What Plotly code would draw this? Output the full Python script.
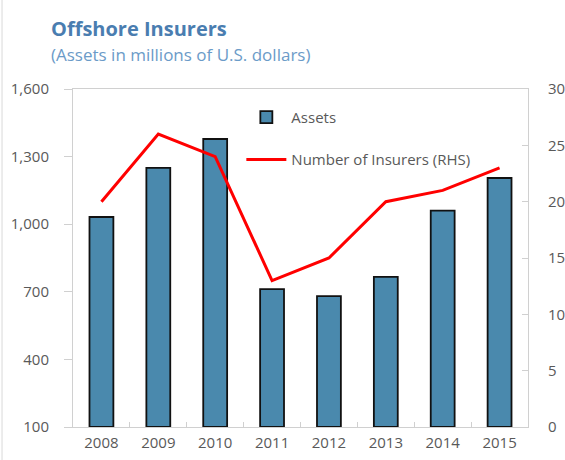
import plotly.graph_objects as go

years = ["2008", "2009", "2010", "2011", "2012", "2013", "2014", "2015"]
assets = [1032, 1250, 1378, 712, 681, 766, 1060, 1205]
insurers = [20, 26, 24, 13, 15, 20, 21, 23]

FONT = "Open Sans"
GRAY = "#595959"
AX = "#d0d0d0"

fig = go.Figure()
fig.add_trace(go.Bar(
    x=years, y=[a - 100 for a in assets], base=100, name="Assets",
    marker=dict(color="#4a89ad", line=dict(color="#111111", width=1.8)),
    legendgroup="a", hoverinfo="skip",
))
fig.add_trace(go.Scatter(
    x=years, y=insurers, name="Number of Insurers (RHS)", yaxis="y2",
    mode="lines", line=dict(color="#ff0000", width=3),
    legendgroup="b",
))

fig.update_layout(
    width=565, height=460,
    margin=dict(l=73, r=37, t=89, b=33),
    plot_bgcolor="white", paper_bgcolor="white",
    font=dict(family=FONT, size=15, color=GRAY),
    bargap=0.58,
    showlegend=True,
    legend=dict(x=0.37, y=0.965, xanchor="left", yanchor="top",
                bgcolor="rgba(0,0,0,0)", tracegroupgap=20,
                font=dict(size=15, color=GRAY), itemwidth=40),
    xaxis=dict(showline=True, linecolor=AX, linewidth=1, mirror=True,
               ticks="inside", tickson="boundaries", ticklen=5, tickcolor=AX,
               tickfont=dict(size=15, color=GRAY), showgrid=False,
               ticklabelstandoff=2, automargin=False),
    yaxis=dict(range=[100, 1600], tickvals=[100, 400, 700, 1000, 1300, 1600],
               tickformat=",", showline=True, linecolor=AX, linewidth=1,
               ticks="outside", ticklen=8, tickcolor=AX, showgrid=False,
               zeroline=False, tickfont=dict(size=15, color=GRAY),
               ticklabelstandoff=12, automargin=False),
    yaxis2=dict(range=[0, 30], tickvals=[0, 5, 10, 15, 20, 25, 30],
                overlaying="y", side="right", showline=True, linecolor=AX,
                ticks="inside", ticklen=6, tickcolor=AX, showgrid=False,
                zeroline=False, tickfont=dict(size=15, color=GRAY),
                ticklabelstandoff=16, automargin=False),
    annotations=[
        dict(text="<b>Offshore Insurers</b>", xref="paper", yref="paper",
             x=-0.052, y=1.0, xanchor="left", yanchor="bottom", yshift=45,
             showarrow=False, font=dict(family=FONT, size=20, color="#4a7db0")),
        dict(text="(Assets in millions of U.S. dollars)", xref="paper", yref="paper",
             x=-0.052, y=1.0, xanchor="left", yanchor="bottom", yshift=21,
             showarrow=False, font=dict(family=FONT, size=17, color="#6b9bc8")),
    ],
    shapes=[dict(type="line", xref="paper", yref="paper", x0=-0.156, x1=-0.156,
                 y0=-0.2, y1=1.4, line=dict(color="#d9d9d9", width=1))],
)

fig.write_html("out.html", config={"displayModeBar": False},
               post_script="document.body.style.margin='0';")
